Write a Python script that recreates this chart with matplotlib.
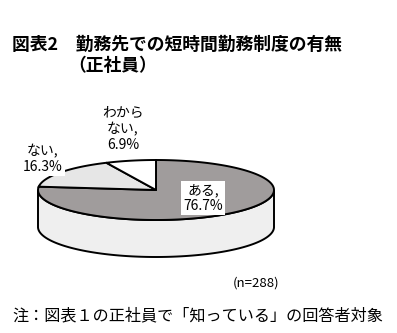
import numpy as np
import matplotlib
matplotlib.use("Agg")
import matplotlib.pyplot as plt
from matplotlib.patches import Polygon

plt.rcParams['font.family'] = ['Noto Sans CJK JP', 'DejaVu Sans']

# ── data ──────────────────────────────────────────────────────────────────────
labels = ["ある,\n76.7%", "ない,\n16.3%", "わから\nない,\n6.9%"]
values = [76.7, 16.3, 6.9]
colors = ["#a09c9c", "#e6e6e6", "#ffffff"]

# ── geometry (pixels) ─────────────────────────────────────────────────────────
W, H = 397, 333
cx, cy = 156, 190
rx, ry = 118, 30
depth = 37

fig = plt.figure(figsize=(W / 100, H / 100), dpi=100)
ax = fig.add_axes([0, 0, 1, 1])
ax.set_xlim(0, W)
ax.set_ylim(H, 0)
ax.axis("off")

def ell(t):
    return cx + rx * np.cos(t), cy - ry * np.sin(t)

# side wall (front half)
t = np.linspace(np.pi, 2 * np.pi, 200)
xs, ys = ell(t)
side = np.column_stack([np.r_[xs, xs[::-1]], np.r_[ys, ys[::-1] + depth]])
ax.add_patch(Polygon(side, closed=True, fc="#efefef", ec="black", lw=1.4, zorder=1))

# top slices, clockwise from 12 o'clock
start = np.pi / 2
total = sum(values)
for v, c in zip(values, colors):
    end = start - 2 * np.pi * v / total
    tt = np.linspace(start, end, 200)
    px, py = ell(tt)
    pts = np.column_stack([np.r_[cx, px], np.r_[cy, py]])
    ax.add_patch(Polygon(pts, closed=True, fc=c, ec="black", lw=1.4, zorder=2))
    start = end

# slice labels
box = dict(fc="white", ec="none", pad=1.5)
ax.text(203, 198, labels[0], ha="center", va="center", fontsize=10,
        linespacing=1.15, bbox=box, zorder=3)
ax.text(43, 159, labels[1], ha="center", va="center", fontsize=10,
        linespacing=1.15, bbox=box, zorder=3)
ax.text(123, 129, labels[2], ha="center", va="center", fontsize=10,
        linespacing=1.15, zorder=3)

# titles and notes
ax.text(12, 45, "図表2　勤務先での短時間勤務制度の有無", fontsize=12.8,
        fontweight="bold", va="center", ha="left")
ax.text(68, 66, "（正社員）", fontsize=12.8, fontweight="bold",
        va="center", ha="left")
ax.text(256, 283, "(n=288)", fontsize=9.5, va="center", ha="center")
ax.text(12, 316, "注：図表１の正社員で「知っている」の回答者対象", fontsize=11.6,
        va="center", ha="left")

fig.savefig("out.png", dpi=100)
